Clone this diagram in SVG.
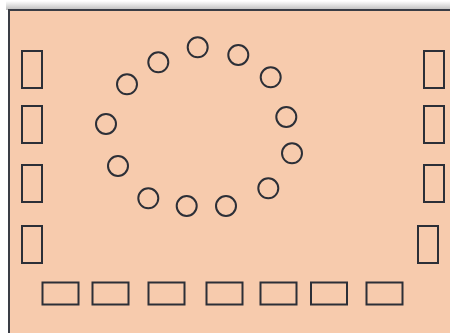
<svg xmlns="http://www.w3.org/2000/svg" width="450" height="333" viewBox="0 0 450 333">
<defs>
<linearGradient id="sh" x1="0" y1="0" x2="0" y2="1">
<stop offset="0" stop-color="#ffffff"/>
<stop offset="1" stop-color="#bdbdbd"/>
</linearGradient>
<style>
.s{fill:none;stroke:#2c2f37;stroke-width:2}
</style>
</defs>
<rect x="0" y="0" width="450" height="333" fill="#ffffff"/>
<rect x="6" y="1" width="444" height="9" fill="url(#sh)"/>
<rect x="9" y="10" width="450" height="330" fill="#f7cbad" stroke="#3a3d45" stroke-width="2"/>
<g id="chairs-left">
<rect class="s" x="22" y="51" width="20" height="37"/>
<rect class="s" x="22" y="106" width="20" height="37"/>
<rect class="s" x="22" y="165" width="20" height="37"/>
<rect class="s" x="22" y="226" width="20" height="37"/>
</g>
<g id="chairs-right">
<rect class="s" x="424" y="51" width="20" height="37"/>
<rect class="s" x="424" y="106" width="20" height="37"/>
<rect class="s" x="424" y="165" width="20" height="37"/>
<rect class="s" x="418" y="226" width="20" height="37"/>
</g>
<g id="chairs-bottom">
<rect class="s" x="42.5" y="282.5" width="36" height="22"/>
<rect class="s" x="92.5" y="282.5" width="36" height="22"/>
<rect class="s" x="148.5" y="282.5" width="36" height="22"/>
<rect class="s" x="206.5" y="282.5" width="36" height="22"/>
<rect class="s" x="260.5" y="282.5" width="36" height="22"/>
<rect class="s" x="311" y="282.5" width="36" height="22"/>
<rect class="s" x="366.5" y="282.5" width="36" height="22"/>
</g>
<g id="circle-seats">
<circle class="s" cx="197.7" cy="47.3" r="10"/>
<circle class="s" cx="238.3" cy="55" r="10"/>
<circle class="s" cx="270.7" cy="77.3" r="10"/>
<circle class="s" cx="286.3" cy="117" r="10"/>
<circle class="s" cx="292" cy="153.3" r="10"/>
<circle class="s" cx="268.3" cy="188.3" r="10"/>
<circle class="s" cx="226" cy="206" r="10"/>
<circle class="s" cx="186.7" cy="206" r="10"/>
<circle class="s" cx="148.3" cy="198.3" r="10"/>
<circle class="s" cx="118" cy="166" r="10"/>
<circle class="s" cx="106" cy="124" r="10"/>
<circle class="s" cx="127" cy="84.3" r="10"/>
<circle class="s" cx="158.3" cy="62.3" r="10"/>
</g>
</svg>
